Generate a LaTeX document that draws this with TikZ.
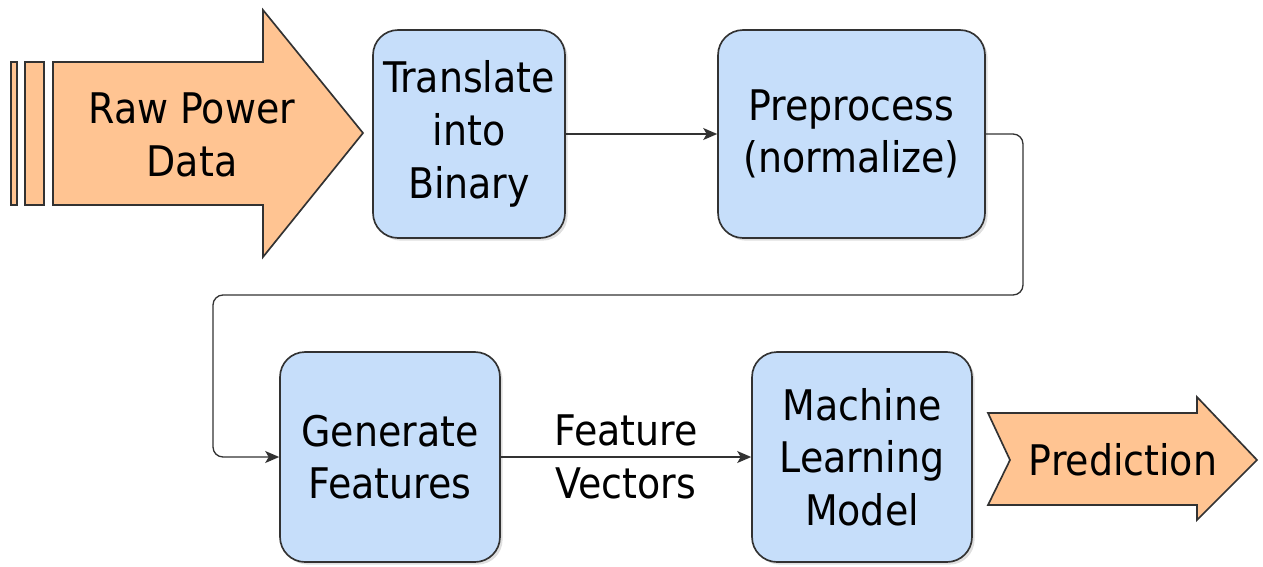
\documentclass[tikz,border=0pt]{standalone}
\usepackage{fontspec}
\setmainfont{DejaVu Sans Condensed}
\usepackage{xcolor}
\usetikzlibrary{positioning,arrows.meta,shadows}

\definecolor{boxblue}{RGB}{198,222,250}
\definecolor{flowpeach}{RGB}{255,196,146}
\definecolor{edgegray}{RGB}{50,50,50}

\tikzset{
    stagebox/.style={draw=edgegray, fill=boxblue, line width=0.95pt, rounded corners=0.5cm,
        align=center, font=\fontsize{24}{30}\selectfont, inner sep=0pt,
        drop shadow={shadow xshift=1.5pt, shadow yshift=-1.5pt, opacity=0.25}},
    flowarrow/.style={draw=edgegray, fill=flowpeach, line width=0.95pt, line join=miter},
    caption/.style={align=center, font=\fontsize{24}{30}\selectfont, inner sep=0pt},
    link/.style={draw=edgegray, line width=0.75pt, rounded corners=0.2cm,
        -{Stealth[length=0.28cm, width=0.24cm, inset=0.07cm]}}
}

\begin{document}
\begin{tikzpicture}[x=0.02cm, y=-0.02cm]
    \useasboundingbox (0,0) rectangle (1263,566);

    % input arrow
    \draw[flowarrow] (11,62) rectangle (17,205);
    \draw[flowarrow] (25,62) rectangle (44,205);
    \draw[flowarrow] (53,62) -- (263,62) -- (263,10) -- (363,133) -- (263,257) -- (263,205) -- (53,205) -- cycle;
    \node[caption] (raw) at (192,135) {Raw Power\\Data};

    % processing stages
    \node[stagebox, minimum width=3.84cm, minimum height=4.16cm] (translate) at (469,134) {Translate\\into\\Binary};
    \node[stagebox, minimum width=5.34cm, minimum height=4.16cm] (preprocess) at (851.5,134) {Preprocess\\(normalize)};
    \node[stagebox, minimum width=4.4cm, minimum height=4.2cm] (generate) at (390,457) {Generate\\Features};
    \node[stagebox, minimum width=4.4cm, minimum height=4.2cm] (model) at (862,457) {Machine\\Learning\\Model};

    % output arrow
    \draw[flowarrow] (988,413) -- (1197,413) -- (1197,397) -- (1257,460) -- (1197,520) -- (1197,505) -- (988,505) -- (1010,460) -- cycle;
    \node[caption] (prediction) at (1123,460) {Prediction};

    % connectors
    \coordinate (loopright) at (1023,295);
    \coordinate (loopleft) at (213,295);
    \draw[link] (translate.east) -- (preprocess.west);
    \draw[link] (preprocess.east) -| (loopright) -- (loopleft) |- (generate.west);
    \draw[link] (generate.east) -- node[caption] (vectors) {Feature\\Vectors} (model.west);
\end{tikzpicture}
\end{document}
